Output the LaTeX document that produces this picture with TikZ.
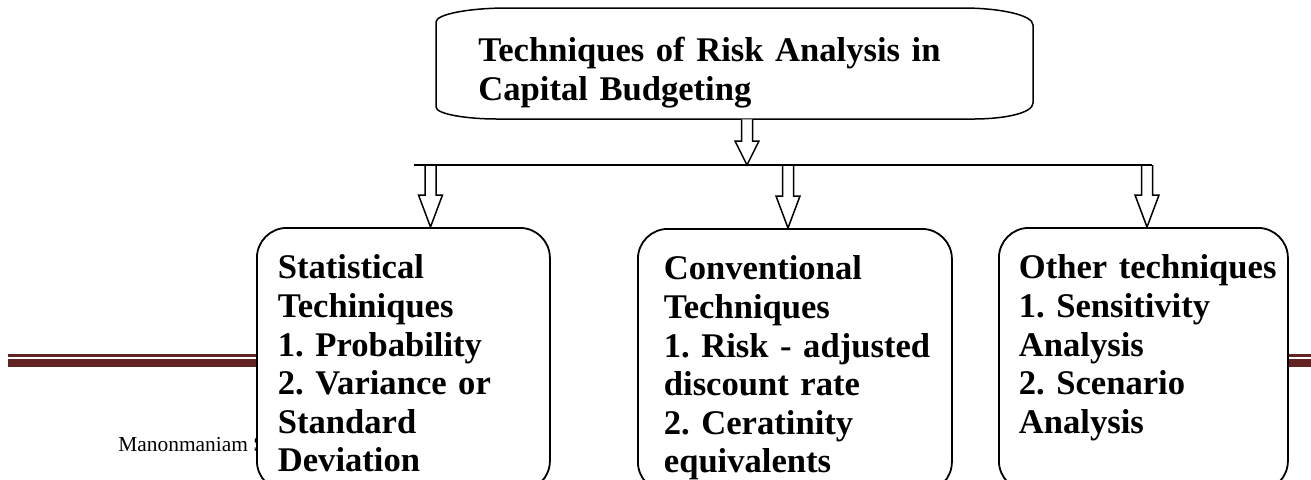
\documentclass[tikz,border=0pt]{standalone}
\usepackage{fontspec}
\setmainfont{Liberation Serif}
\usetikzlibrary{calc}

\definecolor{footerred}{HTML}{622423}
\frenchspacing
\hyphenpenalty=10000
\exhyphenpenalty=10000

\tikzset{
  heading/.style={font=\bfseries\fontsize{17.3}{19.5}\selectfont, align=left, inner sep=0pt},
  techbox/.style={draw, line width=0.9pt, fill=white, rounded corners=15pt, align=left,
    anchor=north west, inner ysep=0pt, inner xsep=10.5pt, text height=25.5pt, text depth=106pt,
    font=\bfseries\fontsize{17.3}{19.3}\selectfont},
  blockarrow/.style={draw, line width=0.75pt, fill=white},
  busline/.style={line width=0.8pt},
  footer/.style={fill=footerred}
}

% hollow arrow: from, to, head length
\newcommand{\hollowarrow}[3]{%
  \path[blockarrow] ($(#1)+(-5.5,0)$) -- ($(#2)+(-5.5,-#3)$) -- ($(#2)+(-12,-#3)$) -- (#2)
    -- ($(#2)+(12,-#3)$) -- ($(#2)+(5.5,-#3)$) -- ($(#1)+(5.5,0)$);}

\begin{document}
\begin{tikzpicture}[x=0.5pt, y=-0.5pt]
\useasboundingbox (0,0) rectangle (1311,479);

    % page footer behind the boxes
    \fill[footer] (8,354) rectangle (262,357);
    \fill[footer] (8,359) rectangle (262,367);
    \fill[footer] (1280,354) rectangle (1311,357);
    \fill[footer] (1280,359) rectangle (1311,367);
    \node[font=\fontsize{10.7}{12}\selectfont, anchor=base west, inner sep=0pt] (uni) at (118,451) {Manonmaniam S};

    % title frame
    \draw[line width=0.75pt] (507,8) -- (963,8) .. controls (1000,8) and (1033,15) .. (1033,25)
        -- (1033,103) .. controls (1033,113) and (1005,119) .. (973,119)
        -- (497,119) .. controls (466,119) and (436,114) .. (436,107)
        -- (436,22) .. controls (436,14) and (470,8) .. (507,8) -- cycle;
    \node[heading, text width=260pt, text depth=29pt, anchor=base west] (title) at (478,61)
        {Techniques of Risk Analysis in\\Capital Budgeting};

    % the three groups
    \node[techbox, text width=125.5pt] (stat) at (256,227)
        {Statistical\\Techiniques\\1. Probability\\2. Variance or\\Standard\\Deviation};
    \node[techbox, text width=131pt, inner xsep=13pt] (conv) at (637,228)
        {Conventional\\Techniques\\1.~Risk~-~adjusted\\discount rate\\2. Ceratinity\\equivalents};
    \node[techbox, text width=124.5pt, inner xsep=10pt] (other) at (998,227)
        {Other~techniques\\1. Sensitivity\\Analysis\\2. Scenario\\Analysis};

    % bus and arrows
    \coordinate (split) at (747,165);
    \coordinate (drop) at (title.south -| split);
    \coordinate (busL) at (414,165);
    \coordinate (busR) at (1152,165);
    \coordinate (a1) at (430.5,165);
    \coordinate (a2) at (788,165);
    \coordinate (a3) at (1147,165);

    \hollowarrow{drop}{split}{24}
    \hollowarrow{a1}{a1 |- stat.north}{32}
    \hollowarrow{a2}{a2 |- conv.north}{32}
    \hollowarrow{a3}{a3 |- other.north}{32}
    \draw[busline] (busL) -- (busR);
\end{tikzpicture}
\end{document}
